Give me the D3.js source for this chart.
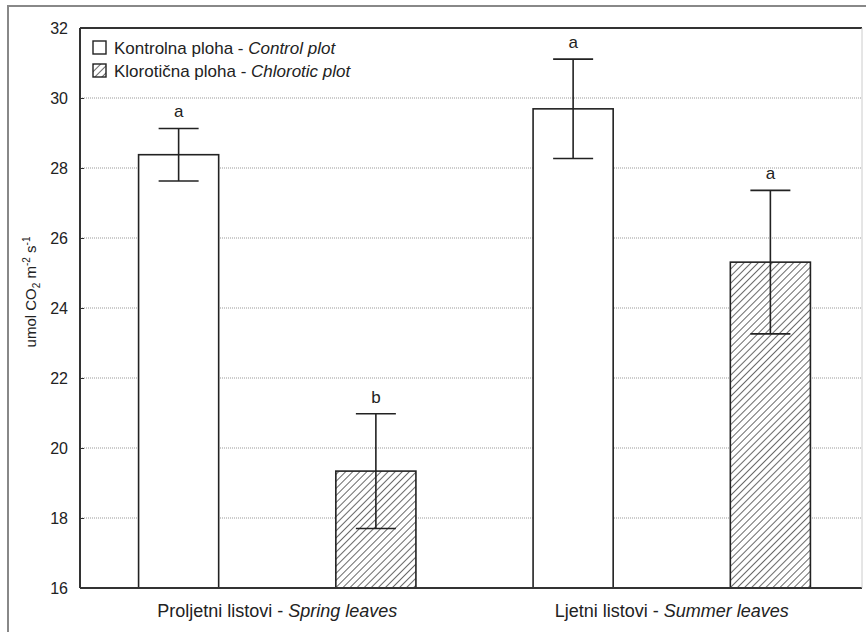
<!DOCTYPE html>
<html>
<head>
<meta charset="utf-8">
<script src="https://cdn.jsdelivr.net/npm/d3@7"></script>
<style>
  body { margin: 0; background: #fff; }
  svg { display: block; font-family: "Liberation Sans", Arial, sans-serif; }
</style>
</head>
<body>
<div id="chart"></div>
<script>
const categories = ["Proljetni listovi", "Ljetni listovi"];
const categoriesEn = ["Spring leaves", "Summer leaves"];
const series = ["control", "chlorotic"];
const seriesHr = ["Kontrolna ploha", "Klorotična ploha"];
const seriesEn = ["Control plot", "Chlorotic plot"];
const controlMeans = [28.38, 29.69];
const controlErr = [0.75, 1.42];
const chloroticMeans = [19.34, 25.31];
const chloroticErr = [1.64, 2.05];
const controlLetters = ["a", "a"];
const chloroticLetters = ["b", "a"];
const yTicks = [16, 18, 20, 22, 24, 26, 28, 30, 32];

const width = 866, height = 632;
const plotLeft = 80, plotTop = 28, plotBottom = 588, plotRight = 862;

const rows = [];
categories.forEach((c, i) => {
    rows.push({ cat: c, s: "control", v: controlMeans[i], e: controlErr[i], l: controlLetters[i] });
    rows.push({ cat: c, s: "chlorotic", v: chloroticMeans[i], e: chloroticErr[i], l: chloroticLetters[i] });
});

const svg = d3.select("#chart")
    .append("svg")
    .attr("width", width)
    .attr("height", height);

const defs = svg.append("defs");
const pat = defs.append("pattern")
    .attr("id", "hatch")
    .attr("patternUnits", "userSpaceOnUse")
    .attr("width", 5)
    .attr("height", 5)
    .attr("patternTransform", "rotate(45)");
pat.append("rect").attr("width", 5).attr("height", 5).attr("fill", "#fff");
pat.append("line")
    .attr("x1", 0).attr("y1", 0).attr("x2", 0).attr("y2", 5)
    .attr("stroke", "#444").attr("stroke-width", 1.6);

// outer frame
svg.append("rect")
    .attr("x", 8).attr("y", 6)
    .attr("width", width + 20).attr("height", height + 20)
    .attr("fill", "none").attr("stroke", "#888").attr("stroke-width", 2);

const y = d3.scaleLinear().domain([16, 32]).range([plotBottom, plotTop]);
const x0 = d3.scaleBand().domain(categories).range([plotLeft, 869]);
const x1 = d3.scaleBand().domain(series).range([0, x0.bandwidth()])
    .paddingInner(0.594).paddingOuter(0.297);

// gridlines
svg.append("g")
    .selectAll("line")
    .data(yTicks.filter(t => t > 16 && t < 32))
    .enter().append("line")
    .attr("x1", plotLeft).attr("x2", plotRight)
    .attr("y1", d => y(d)).attr("y2", d => y(d))
    .attr("stroke", "#999")
    .attr("stroke-width", 1)
    .attr("stroke-dasharray", "1,1");

// y axis
const yAxis = svg.append("g")
    .attr("transform", `translate(${plotLeft},0)`)
    .call(d3.axisLeft(y).tickValues(yTicks).tickSize(-4).tickPadding(12));
yAxis.select(".domain").remove();
yAxis.selectAll("line").attr("stroke", "#333");
yAxis.selectAll("text")
    .attr("font-size", 16)
    .attr("fill", "#222")
    .attr("font-family", "Liberation Sans, Arial, sans-serif");

// bars
const bars = svg.append("g")
    .selectAll("g")
    .data(rows)
    .enter().append("g")
    .attr("transform", d => `translate(${x0(d.cat) + x1(d.s)},0)`);

bars.append("rect")
    .attr("x", 0)
    .attr("y", d => y(d.v))
    .attr("width", x1.bandwidth())
    .attr("height", d => y(16) - y(d.v))
    .attr("fill", d => d.s === "control" ? "#fff" : "url(#hatch)")
    .attr("stroke", "#222")
    .attr("stroke-width", 1.6);

const cx = x1.bandwidth() / 2;
bars.append("line")
    .attr("x1", cx).attr("x2", cx)
    .attr("y1", d => y(d.v + d.e)).attr("y2", d => y(d.v - d.e))
    .attr("stroke", "#222").attr("stroke-width", 1.6);
bars.append("line")
    .attr("x1", cx - 20).attr("x2", cx + 20)
    .attr("y1", d => y(d.v + d.e)).attr("y2", d => y(d.v + d.e))
    .attr("stroke", "#222").attr("stroke-width", 1.6);
bars.append("line")
    .attr("x1", cx - 20).attr("x2", cx + 20)
    .attr("y1", d => y(d.v - d.e)).attr("y2", d => y(d.v - d.e))
    .attr("stroke", "#222").attr("stroke-width", 1.6);
bars.append("text")
    .attr("x", cx)
    .attr("y", d => y(d.v + d.e) - 11)
    .attr("text-anchor", "middle")
    .attr("font-size", 17)
    .attr("fill", "#222")
    .text(d => d.l);

// plot frame
svg.append("line").attr("x1", plotLeft).attr("x2", plotRight).attr("y1", plotTop).attr("y2", plotTop)
    .attr("stroke", "#333").attr("stroke-width", 2);
svg.append("line").attr("x1", plotLeft).attr("x2", plotRight).attr("y1", plotBottom).attr("y2", plotBottom)
    .attr("stroke", "#333").attr("stroke-width", 2);
svg.append("line").attr("x1", plotLeft).attr("x2", plotLeft).attr("y1", plotTop).attr("y2", plotBottom)
    .attr("stroke", "#333").attr("stroke-width", 2);
svg.append("line").attr("x1", plotRight).attr("x2", plotRight).attr("y1", plotTop).attr("y2", plotBottom)
    .attr("stroke", "#ccc").attr("stroke-width", 1);

// x labels
const xl = svg.append("g")
    .selectAll("text")
    .data(categories)
    .enter().append("text")
    .attr("x", d => x0(d) + x0.bandwidth() / 2)
    .attr("y", 617)
    .attr("text-anchor", "middle")
    .attr("font-size", 18)
    .attr("fill", "#222");
xl.append("tspan").text(d => d + " - ");
xl.append("tspan").attr("font-style", "italic").text((d, i) => categoriesEn[i]);

// y label
const yl = svg.append("text")
    .attr("transform", `translate(36,292) rotate(-90)`)
    .attr("text-anchor", "middle")
    .attr("font-size", 15)
    .attr("fill", "#222");
yl.append("tspan").text("umol CO");
yl.append("tspan").attr("font-size", 10).attr("dy", 4).text("2");
yl.append("tspan").attr("dy", -4).text(" m");
yl.append("tspan").attr("font-size", 10).attr("dy", -6).text("-2");
yl.append("tspan").attr("dy", 6).text(" s");
yl.append("tspan").attr("font-size", 10).attr("dy", -6).text("-1");

// legend
const lg = svg.append("g")
    .selectAll("g")
    .data(series)
    .enter().append("g")
    .attr("transform", (d, i) => `translate(93,${41 + i * 23})`);
lg.append("rect")
    .attr("width", 13).attr("height", 13)
    .attr("fill", d => d === "control" ? "#fff" : "url(#hatch)")
    .attr("stroke", "#222").attr("stroke-width", 1.4);
const lt = lg.append("text")
    .attr("x", 21).attr("y", 13)
    .attr("font-size", 17)
    .attr("fill", "#222");
lt.append("tspan").text((d, i) => seriesHr[i] + " - ");
lt.append("tspan").attr("font-style", "italic").text((d, i) => seriesEn[i]);
</script>
</body>
</html>
